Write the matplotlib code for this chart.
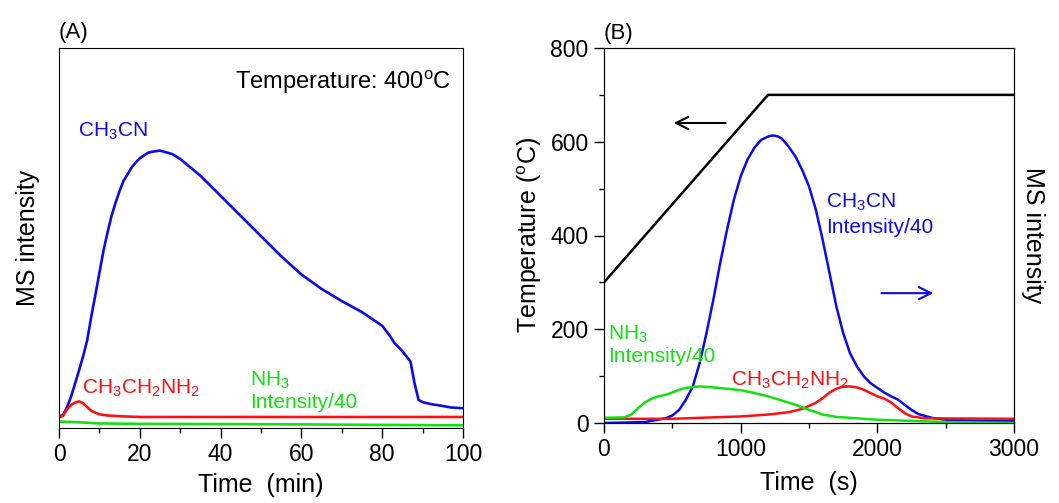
import matplotlib
matplotlib.use("Agg")
import matplotlib.pyplot as plt

plt.rcParams['font.family'] = ['Liberation Sans', 'DejaVu Sans']
plt.rcParams['mathtext.fontset'] = 'custom'
plt.rcParams['mathtext.rm'] = 'Liberation Sans'

BLUE = '#0a0aee'
RED = '#ff1010'
GREEN = '#12e012'

# ---------------- Panel A data (arbitrary MS units) ----------------
a_t_blue = [0, 1, 2, 3, 4, 5, 6, 7, 8, 9, 10, 11, 12, 13, 14, 15, 16, 17, 18, 19, 20, 22, 23,
            25, 28, 30, 35, 40, 45, 50, 55, 60, 65, 70, 75, 80, 82, 83, 85, 87, 88, 89, 90,
            92, 95, 97, 100]
a_blue = [3.0, 3.4, 5.5, 8.3, 11.8, 15.3, 19.0, 23.2, 29.4, 35.0, 40.8, 46.6, 51.4, 55.8,
          59.3, 62.4, 65.1, 66.8, 68.6, 69.9, 71.0, 72.4, 72.7, 73.0, 72.1, 70.8, 66.4, 61.1,
          55.8, 50.5, 45.2, 40.4, 36.6, 33.4, 30.5, 26.9, 24.1, 22.4, 20.2, 17.5, 11.8, 7.4,
          6.8, 6.3, 5.8, 5.4, 5.2]
a_t_red = [0, 1, 2, 3, 4, 5, 6, 7, 8, 10, 12, 15, 20, 40, 60, 80, 100]
a_red = [2.8, 3.2, 4.9, 6.1, 6.7, 7.0, 6.5, 5.5, 4.5, 3.6, 3.3, 3.1, 2.9, 2.9, 2.9, 2.9, 2.9]
a_t_green = [0, 5, 10, 20, 50, 100]
a_green = [1.7, 1.5, 1.2, 1.1, 1.0, 0.7]

# ---------------- Panel B data ----------------
b_t_temp = [0, 1200, 3000]
b_temp = [300, 700, 700]

b_t_blue = [0, 300, 450, 500, 550, 600, 650, 700, 750, 800, 850, 900, 950, 1000, 1050, 1100,
            1150, 1200, 1225, 1250, 1275, 1300, 1350, 1400, 1450, 1500, 1550, 1600, 1650, 1700,
            1750, 1800, 1850, 1900, 1950, 2000, 2050, 2100, 2150, 2200, 2250, 2300, 2400,
            2500, 2700, 3000]
b_blue = [0, 2, 10, 16, 28, 50, 78, 128, 192, 263, 341, 412, 476, 526, 562, 587, 604, 611,
          613, 613, 611, 607, 590, 569, 540, 505, 455, 391, 320, 249, 192, 149, 121, 100, 85,
          75, 65, 57, 50, 39, 28, 19, 11, 7, 5, 4]
b_t_red = [0, 500, 1000, 1200, 1350, 1450, 1550, 1600, 1650, 1700, 1750, 1800, 1850, 1900,
           1950, 2000, 2050, 2100, 2150, 2200, 2250, 2350, 3000]
b_red = [9, 9, 14, 18, 23, 30, 43, 53, 65, 73, 78, 78, 76, 71, 64, 57, 52, 44, 32, 21, 14,
         10, 9]
b_t_green = [0, 150, 200, 250, 300, 350, 400, 450, 500, 550, 600, 700, 800, 900, 1000, 1100,
             1200, 1300, 1400, 1500, 1600, 1700, 1800, 2000, 2200, 2500, 3000]
b_green = [11, 12, 18, 32, 44, 52, 57, 60, 65, 71, 75, 78, 76, 73, 70, 64, 57, 48, 39, 28,
           18, 13, 11, 7, 5, 2, 0]

a_xticks = [0, 20, 40, 60, 80, 100]
b_xticks = [0, 1000, 2000, 3000]
b_yticks = [0, 200, 400, 600, 800]

fig = plt.figure(figsize=(10.59, 5.03), dpi=100)

FS_TICK = 16.5
FS_LAB = 18
FS_ANN = 15

# ---------------- Panel A ----------------
axA = fig.add_axes([59 / 1059, 1 - 428 / 503, 404 / 1059, 380 / 503])
axA.plot(a_t_blue, a_blue, color=BLUE, lw=1.9)
axA.plot(a_t_red, a_red, color=RED, lw=1.9)
axA.plot(a_t_green, a_green, color=GREEN, lw=1.9)
axA.set_xlim(0, 100)
axA.set_ylim(0, 100)
axA.set_xticks(a_xticks)
axA.set_xticks([10, 30, 50, 70, 90], minor=True)
axA.set_yticks([])
axA.tick_params(axis='x', which='major', direction='out', length=7, width=1,
                labelsize=FS_TICK, pad=4)
axA.tick_params(axis='x', which='minor', direction='out', length=3.5, width=1)
axA.set_xlabel('Time  (min)', fontsize=FS_LAB, labelpad=5)
axA.set_ylabel('MS intensity', fontsize=FS_LAB, labelpad=14)
axA.text(0.0, 1.012, '(A)', transform=axA.transAxes, fontsize=16, ha='left', va='bottom')
axA.text(97, 91, 'Temperature: 400$^{\\rm o}$C', fontsize=17, ha='right', va='center')
axA.text(4.7, 78, 'CH$_3$CN', color=BLUE, fontsize=FS_ANN, ha='left', va='center')
axA.text(5.7, 10.6, 'CH$_3$CH$_2$NH$_2$', color=RED, fontsize=FS_ANN, ha='left', va='center')
axA.text(47.3, 12.5, 'NH$_3$', color=GREEN, fontsize=FS_ANN, ha='left', va='center')
axA.text(47.3, 6.6, 'Intensity/40', color=GREEN, fontsize=FS_ANN, ha='left', va='center')

# ---------------- Panel B ----------------
axB = fig.add_axes([604 / 1059, 1 - 423 / 503, 410 / 1059, 375 / 503])
axB.plot(b_t_temp, b_temp, color='black', lw=1.8)
axB.set_xlim(0, 3000)
axB.set_ylim(0, 800)
axB.set_xticks(b_xticks)
axB.set_xticks([500, 1500, 2500], minor=True)
axB.set_yticks(b_yticks)
axB.set_yticks([100, 300, 500, 700], minor=True)
axB.tick_params(which='major', direction='out', length=7, width=1, labelsize=FS_TICK, pad=4)
axB.tick_params(which='minor', direction='out', length=3.5, width=1)
axB.set_xlabel('Time  (s)', fontsize=FS_LAB, labelpad=7)
axB.set_ylabel('Temperature ($^{\\rm o}$C)', fontsize=FS_LAB, labelpad=5)

axB2 = axB.twinx()
axB2.plot(b_t_blue, b_blue, color=BLUE, lw=1.8)
axB2.plot(b_t_red, b_red, color=RED, lw=1.8)
axB2.plot(b_t_green, b_green, color=GREEN, lw=1.8)
axB2.set_ylim(0, 800)
axB2.set_yticks([])
axB2.set_ylabel('MS intensity', fontsize=FS_LAB, rotation=270, labelpad=22)

axB.text(0.0, 1.012, '(B)', transform=axB.transAxes, fontsize=16, ha='left', va='bottom')
axB2.text(1624, 471, 'CH$_3$CN', color=BLUE, fontsize=FS_ANN, ha='left', va='center')
axB2.text(1624, 418, 'Intensity/40', color=BLUE, fontsize=FS_ANN, ha='left', va='center')
axB2.text(30, 190, 'NH$_3$', color=GREEN, fontsize=FS_ANN, ha='left', va='center')
axB2.text(30, 141, 'Intensity/40', color=GREEN, fontsize=FS_ANN, ha='left', va='center')
axB2.text(929, 92, 'CH$_3$CH$_2$NH$_2$', color=RED, fontsize=FS_ANN, ha='left', va='center')

axB.annotate('', xy=(490, 640), xytext=(910, 640),
             arrowprops=dict(arrowstyle='->', color='black', lw=1.5, mutation_scale=22))
axB2.annotate('', xy=(2430, 277), xytext=(2010, 277),
              arrowprops=dict(arrowstyle='->', color=BLUE, lw=1.5, mutation_scale=22))

fig.savefig('out.png', dpi=100)
